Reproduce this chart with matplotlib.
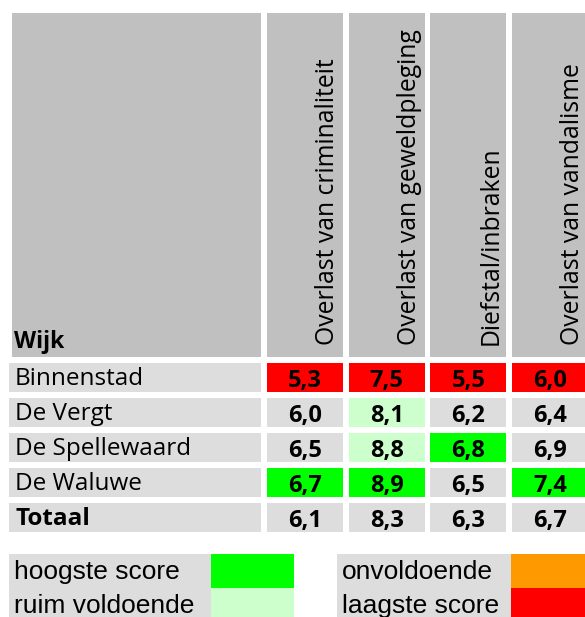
import matplotlib.pyplot as plt
from matplotlib.patches import Rectangle

# gegevens uit de tabel
wijken = ['Binnenstad', 'De Vergt', 'De Spellewaard', 'De Waluwe', 'Totaal']
themas = ['Overlast van criminaliteit', 'Overlast van geweldpleging',
          'Diefstal/inbraken', 'Overlast van vandalisme']
criminaliteit = [5.3, 6.0, 6.5, 6.7, 6.1]
geweld = [7.5, 8.1, 8.8, 8.9, 8.3]
diefstal = [5.5, 6.2, 6.8, 6.5, 6.3]
vandalisme = [6.0, 6.4, 6.9, 7.4, 6.7]
# klasse per cel: H = hoogste, R = ruim voldoende, L = laagste, '' = geen
klasse_crim = ['L', '', '', 'H', '']
klasse_geweld = ['L', 'R', 'R', 'H', '']
klasse_diefstal = ['L', '', 'H', '', '']
klasse_vandalisme = ['L', '', '', 'H', '']
legenda = [('hoogste score', 'H'), ('ruim voldoende', 'R'),
           ('onvoldoende', 'O'), ('laagste score', 'L')]

kleuren = {'H': '#00FF00', 'R': '#CCFFCC', 'O': '#FF9900',
           'L': '#FF0000', '': '#DDDDDD'}

scores = [criminaliteit, geweld, diefstal, vandalisme]
klassen = [klasse_crim, klasse_geweld, klasse_diefstal, klasse_vandalisme]

W, H = 585, 617
fig = plt.figure(figsize=(W / 100, H / 100), dpi=100)
ax = fig.add_axes([0, 0, 1, 1])
ax.set_xlim(0, W)
ax.set_ylim(H, 0)
ax.axis('off')

tabel_font = 'Open Sans'
legenda_font = 'Liberation Sans'

# layout in pixels
kop_top, kop_bodem = 13, 357
links_kop, links_rij, links_breed = 12, 9, 261
kol_x0, kol_w, kol_gap = 267, 76, 5.67
rij_y0, rij_h, rij_stap = 363, 29, 35

# kopregel
ax.add_patch(Rectangle((links_kop, kop_top), links_breed - links_kop,
                       kop_bodem - kop_top, color='#C0C0C0', lw=0))
ax.text(links_kop + 2, kop_bodem - 9, 'Wijk', fontsize=16.5, fontweight='bold',
        family=tabel_font, va='baseline', ha='left')
for j, thema in enumerate(themas):
    x = kol_x0 + j * (kol_w + kol_gap)
    ax.add_patch(Rectangle((x, kop_top), kol_w, kop_bodem - kop_top,
                           color='#C0C0C0', lw=0))
    ax.text(x + kol_w - 3, kop_bodem - 12, thema, rotation=90,
            fontsize=17.8, family=tabel_font,
            ha='right', va='bottom')

# rijen
for i, wijk in enumerate(wijken):
    y = rij_y0 + i * rij_stap
    ax.add_patch(Rectangle((links_rij, y), links_breed - links_rij, rij_h,
                           color='#DDDDDD', lw=0))
    ax.text(links_rij + 6, y + 22, wijk, fontsize=17.5,
            family=tabel_font,
            fontweight='bold' if wijk == 'Totaal' else 'normal',
            ha='left', va='baseline')
    for j in range(len(themas)):
        x = kol_x0 + j * (kol_w + kol_gap)
        ax.add_patch(Rectangle((x, y), kol_w, rij_h,
                               color=kleuren[klassen[j][i]], lw=0))
        ax.text(x + kol_w / 2, y + 24,
                f'{scores[j][i]:.1f}'.replace('.', ','),
                fontsize=17, fontweight='bold', family=tabel_font,
                ha='center', va='baseline')

# legenda
leg_y0, leg_h = 554, 34
leg_kolommen = [(9, 211, 294), (337, 511, 594)]
for k, (tekst, code) in enumerate(legenda):
    x0, xb, x1 = leg_kolommen[k // 2]
    y = leg_y0 + (k % 2) * leg_h
    ax.add_patch(Rectangle((x0, y), xb - x0, leg_h, color='#DDDDDD', lw=0))
    ax.add_patch(Rectangle((xb, y), x1 - xb, leg_h, color=kleuren[code], lw=0))
    ax.text(x0 + 5, y + 25, tekst, fontsize=19,
            family=legenda_font, ha='left', va='baseline')

fig.savefig('out.png', dpi=100)
